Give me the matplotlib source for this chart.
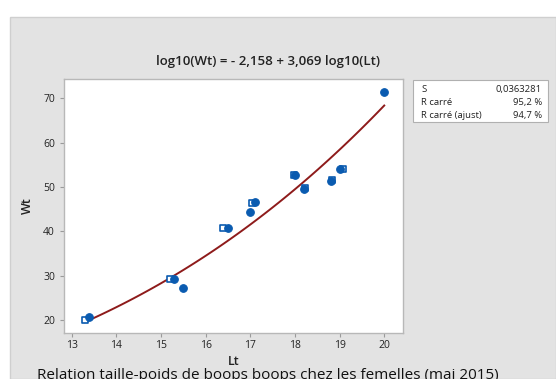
import numpy as np
import matplotlib.pyplot as plt
from matplotlib.patches import Rectangle

# --- Data ---
lt_filled = [13.4, 15.3, 15.5, 16.5, 17.0, 17.1, 18.0, 18.2, 18.8, 19.0, 20.0]
wt_filled = [20.7, 29.2, 27.3, 40.75, 44.4, 46.5, 52.8, 49.5, 51.3, 54.0, 71.5]

lt_open = [13.3, 15.2, 16.4, 17.05, 17.98, 18.22, 18.82, 19.07]
wt_open = [20.1, 29.2, 40.75, 46.3, 52.8, 49.7, 51.5, 54.0]

# fitted model shown in the title
INTERCEPT = -2.158
SLOPE = 3.069
LT_MIN, LT_MAX = 13.3, 20.0

stats_names = ["S", "R carré", "R carré (ajust)"]
stats_values = ["0,0363281", "95,2 %", "94,7 %"]

plt.rcParams["font.family"] = ["Open Sans", "DejaVu Sans"]

W, H = 556, 379
fig = plt.figure(figsize=(W / 100, H / 100), dpi=100)
fig.patch.set_facecolor("white")

# grey panel behind everything
fig.patches.append(Rectangle((10 / W, 0), 1 - 10 / W, 1 - 17 / H,
                             transform=fig.transFigure, facecolor="#e3e3e3",
                             edgecolor="#cfcfcf", linewidth=1.0, zorder=-5))

ax = fig.add_axes([64 / W, 1 - 333 / H, (403 - 64) / W, (333 - 79) / H])
ax.set_zorder(2)
ax.set_facecolor("white")

# fitted line
lt_line = np.linspace(LT_MIN, LT_MAX, 100)
wt_line = 10 ** (INTERCEPT + SLOPE * np.log10(lt_line))
ax.plot(lt_line, wt_line, color="#8e1b1b", linewidth=1.4, zorder=2)

ax.scatter(lt_open, wt_open, marker="s", s=18, facecolor="white",
           edgecolor="#0a5bb0", linewidth=1.2, zorder=3)
ax.scatter(lt_filled, wt_filled, marker="o", s=30, facecolor="#0a5bb0",
           edgecolor="#0a5bb0", linewidth=0.8, zorder=4)

ax.set_xlim(12.83, 20.42)
ax.set_ylim(17.07, 74.35)
ax.set_xticks(range(13, 21))
ax.set_yticks([20, 30, 40, 50, 60, 70])

for sp in ax.spines.values():
    sp.set_color("#b8b8b8")
    sp.set_linewidth(1.0)
ax.tick_params(axis="both", colors="#9a9a9a", labelcolor="#222222",
               labelsize=7.5, length=3, width=0.8)
ax.tick_params(axis="x", pad=2)

ax.set_xlabel("Lt", fontsize=9, fontweight="semibold", color="#222222", labelpad=3)
ax.set_ylabel("Wt", fontsize=9, fontweight="semibold", color="#222222", labelpad=2)
ax.yaxis.set_label_coords(-30 / (403 - 64), 0.5)

fig.text(268 / W, 1 - 61 / H, "log10(Wt) = - 2,158 + 3,069 log10(Lt)",
         ha="center", va="center", fontsize=9.5, fontweight="semibold",
         color="#222222")

# statistics box
fig.patches.append(Rectangle((413 / W, 1 - 122 / H), (548 - 413) / W, (122 - 80) / H,
                             transform=fig.transFigure, facecolor="white",
                             edgecolor="#b0b0b0", linewidth=0.8, zorder=1))
for i, (name, val) in enumerate(zip(stats_names, stats_values)):
    y = 1 - (92 + 13 * i) / H
    fig.text(421 / W, y, name, ha="left", va="baseline", fontsize=6.8, color="#222222")
    fig.text(542 / W, y, val, ha="right", va="baseline", fontsize=6.8, color="#222222")

fig.text(268 / W, 1 - 368 / H,
         "Relation taille-poids de boops boops chez les femelles (mai 2015)",
         ha="center", va="top", fontsize=11, color="#111111")

fig.savefig("out.png", dpi=100)
